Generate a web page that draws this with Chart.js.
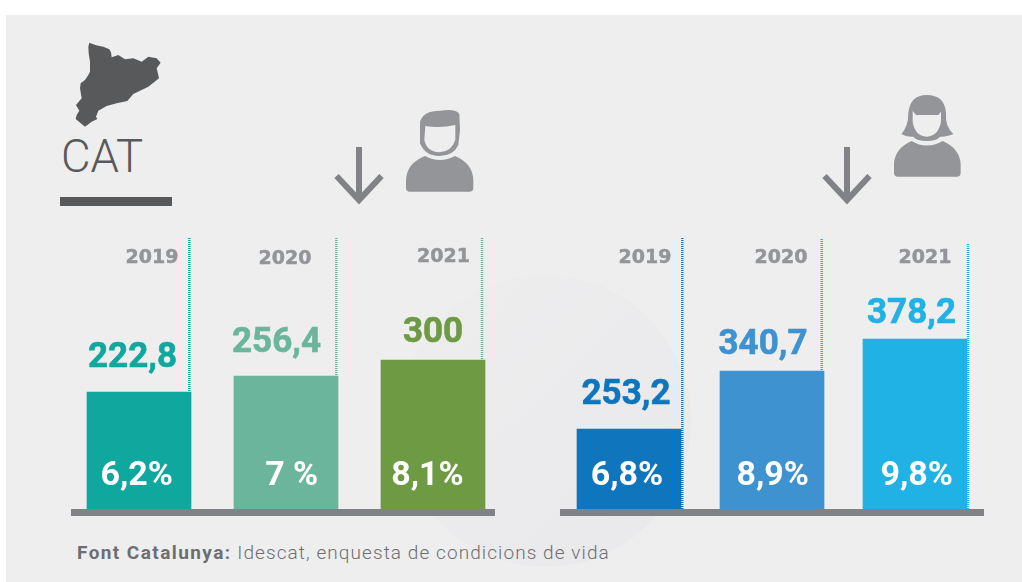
<!DOCTYPE html>
<html lang="ca">
<head>
<meta charset="utf-8">
<title>CAT</title>
<script src="https://cdn.jsdelivr.net/npm/chart.js@4"></script>
<style>
html,body{margin:0;padding:0;background:#fff;width:1022px;height:582px;overflow:hidden}
#panel{position:absolute;left:6px;top:15px;width:1016px;height:567px;background:#eeeeee}
#circle{position:absolute;left:399px;top:275px;width:292px;height:292px;border-radius:50%;background:linear-gradient(135deg,#ededee,#e9e9eb)}
#art{position:absolute;left:0;top:0}
canvas{position:absolute}
#men{left:60px;top:230px}
#women{left:550px;top:230px}
.base{position:absolute;top:509px;height:7px;background:#808285}
#cat{position:absolute;left:61px;top:130px;font:300 45.5px/54px Roboto,sans-serif;color:#58595b}
#rule{position:absolute;left:60px;top:197px;width:112px;height:9px;background:#58595b}
#source{position:absolute;left:77px;top:541px;font:300 19px/24px Roboto,sans-serif;letter-spacing:1.08px;color:#6d6e71;white-space:nowrap}
#source b{font-weight:700;letter-spacing:1.42px}
</style>
</head>
<body>
<div id="panel"></div>
<div id="circle"></div>
<svg id="art" width="1022" height="582" viewBox="0 0 1022 582">
  <g transform="translate(40 20) scale(.33333)">
    <path fill="#58595b" d="M148 68 L168 76 L190 80 L208 88 L213 97 L215 112 L235 105 L255 118 L280 115 L305 125 L325 110 L350 115 L362 128 L350 145 L357 175 L325 200 L280 222 L262 243 L230 250 L200 258 L175 272 L168 290 L172 297 L155 305 L135 320 L107 297 L110 285 L118 272 L108 255 L125 235 L120 205 L122 190 L135 180 L145 165 L150 155 L150 125 L146 100 L145 80 Z"/>
    <g fill="#939598">
      <path d="M1098 503 Q1098 515 1110 515 H1288 Q1300 515 1300 503 V480 Q1298 430 1245 408 Q1200 432 1155 408 Q1100 430 1098 480 Z"/>
      <path d="M1140 305 Q1150 272 1200 272 Q1250 266 1258 282 L1260 330 L1255 375 Q1240 408 1198 408 Q1155 408 1140 370 Z"/>
      <path fill="#eeeeee" d="M1156 318 Q1200 326 1246 315 L1246 360 Q1235 395 1198 397 Q1160 395 1153 360 Z"/>
    </g>
  </g>
  <g transform="translate(540 80) scale(.33333)" fill="#939598">
    <path d="M1062 278 Q1062 290 1074 290 H1250 Q1262 290 1262 278 V250 Q1258 205 1208 183 Q1160 210 1115 183 Q1065 205 1062 250 Z"/>
    <path d="M1105 100 Q1110 45 1160 45 Q1215 45 1218 100 Q1215 140 1240 162 Q1215 172 1200 170 Q1190 183 1160 183 Q1130 183 1120 170 Q1100 172 1084 162 Q1105 140 1105 100 Z"/>
    <path fill="#eeeeee" d="M1118 92 L1128 105 L1195 105 L1203 95 V125 Q1195 168 1160 170 Q1125 168 1118 125 Z"/>
  </g>
  <g fill="none" stroke="#808285" stroke-width="6">
    <path d="M359 147 V201 M336.500 176 L359 200 L381.500 176"/>
    <path d="M847 147 V201 M824.500 176 L847 200 L869.500 176"/>
  </g>
</svg>
<div id="cat">CAT</div>
<div id="rule"></div>
<div class="base" style="left:71px;width:424px"></div>
<div class="base" style="left:560px;width:424px"></div>
<canvas id="men" width="460" height="290"></canvas>
<canvas id="women" width="460" height="290"></canvas>
<div id="source"><b>Font Catalunya:</b> Idescat, enquesta de condicions de vida</div>
<script>
const years = ["2019", "2020", "2021"];
const menValues = [222.8, 256.4, 300];
const womenValues = [253.2, 340.7, 378.2];
const menRates = ["6,2%", "7 %", "8,1%"];
const womenRates = ["6,8%", "8,9%", "9,8%"];
const menColors = ["#10a89e", "#6bb59d", "#6e9a44"];
const womenColors = ["#0f75bc", "#3e92d0", "#20b1e5"];
// The reference does not draw its bars to one common scale: each bar has its own axis top.
const menAxisMax = [514.2, 520.5, 543.6];
const womenAxisMax = [854.6, 666.6, 600.7];

function comma(v){ return String(v).replace(".", ","); }

const annotate = {
  id: "annotate",
  afterDatasetsDraw(chart, args, o) {
    const c = chart.ctx;
    chart.data.datasets.forEach((ds, i) => {
      const bar = chart.getDatasetMeta(i).data[i];
      const cx = bar.x;
      const top = bar.y;
      c.save();
      c.strokeStyle = o.ruleColors[i];
      c.lineWidth = 2.5;
      c.setLineDash([1, 1]);
      c.beginPath();
      c.moveTo(cx + o.ruleDx[i], o.ruleTop[i] - o.canvasTop);
      c.lineTo(cx + o.ruleDx[i], o.ruleToBase[i] ? chart.chartArea.bottom : top);
      c.stroke();
      c.setLineDash([]);
      c.textAlign = "center";
      c.textBaseline = "alphabetic";
      c.fillStyle = "#939598";
      c.strokeStyle = "#939598";
      c.lineWidth = 0.5;
      c.font = "700 19px 'DejaVu Sans'";
      c.fillText(chart.data.labels[i], cx + o.yearDx[i], o.yearBase[i] - o.canvasTop);
      c.strokeText(chart.data.labels[i], cx + o.yearDx[i], o.yearBase[i] - o.canvasTop);
      c.fillStyle = ds.backgroundColor;
      c.strokeStyle = ds.backgroundColor;
      c.lineWidth = 0.6;
      c.font = "700 35px Roboto";
      c.fillText(comma(o.values[i]), cx + o.valueDx[i], top - o.valueUp[i]);
      c.strokeText(comma(o.values[i]), cx + o.valueDx[i], top - o.valueUp[i]);
      c.fillStyle = "#ffffff";
      c.font = "700 34px Roboto";
      c.fillText(o.rates[i], cx + o.rateDx[i], o.rateBase - o.canvasTop);
      c.restore();
    });
  }
};

function build(id, values, colors, axisMax, rates, layoutLeft, layoutRight, marks) {
  const scales = { x: { display: false, offset: true } };
  values.forEach((v, i) => {
    scales["y" + i] = { display: false, min: 0, max: axisMax[i] };
  });
  new Chart(document.getElementById(id), {
    type: "bar",
    data: {
      labels: years,
      datasets: values.map((v, i) => ({
        label: years[i],
        data: years.map((_, j) => (j === i ? v : null)),
        backgroundColor: colors[i],
        yAxisID: "y" + i,
        grouped: false,
        barThickness: 104,
        borderWidth: 0
      }))
    },
    options: {
      responsive: false,
      animation: false,
      events: [],
      layout: { padding: { left: layoutLeft, right: layoutRight, top: 9, bottom: 11 } },
      scales,
      plugins: {
        legend: { display: false },
        tooltip: { enabled: false },
        annotate: Object.assign({ values, rates, canvasTop: 230, rateBase: 485 }, marks)
      }
    },
    plugins: [annotate]
  });
}

build("men", menValues, menColors, menAxisMax, menRates, 5.5, 13.5, {
  ruleColors: ["#10a89e", "#6bb59d", "#6bb59d"], ruleToBase: [false, false, false],
  ruleDx: [50.3, 50.3, 49], ruleTop: [238, 238, 238],
  yearDx: [13, -1, 10.5], yearBase: [263, 264, 262],
  valueDx: [-6.5, -9.5, 0], valueUp: [25, 24, 18],
  rateDx: [-2.3, 5.7, -5.5]
});
build("women", womenValues, womenColors, womenAxisMax, womenRates, 7.5, 23.5, {
  ruleColors: ["#0f75bc", "#20b1e5", "#20b1e5"], ruleToBase: [true, false, true],
  ruleDx: [53.3, 49.7, 53], ruleTop: [238, 239, 244],
  yearDx: [16, 9, 10], yearBase: [263, 263, 263],
  valueDx: [-3, -9, -3.5], valueUp: [25, 17, 16],
  rateDx: [-2, 0.7, 1.7]
});
</script>
</body>
</html>
